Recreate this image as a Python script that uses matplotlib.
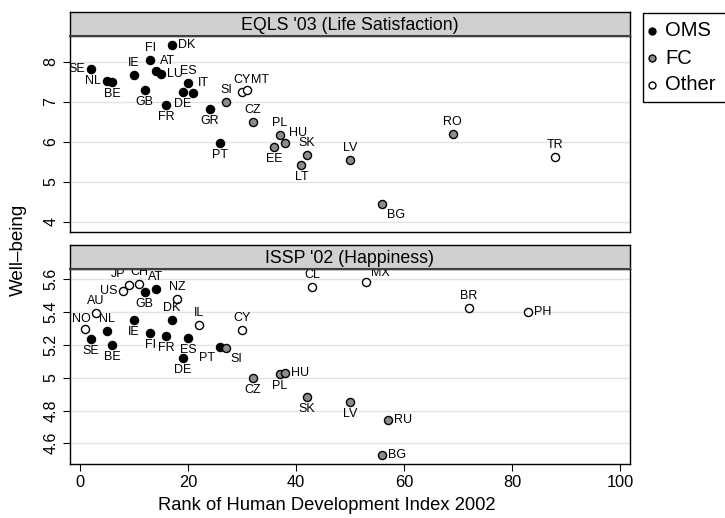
import matplotlib
matplotlib.use('Agg')
from matplotlib import pyplot as plt
from matplotlib.patches import Rectangle
from matplotlib.lines import Line2D
import numpy as np

plt.rcParams['font.family'] = ['Liberation Sans', 'DejaVu Sans']

# EQLS '03 (Life Satisfaction)
eqls_codes = ['SE', 'NL', 'BE', 'IE', 'GB', 'FI', 'AT', 'LU', 'FR', 'DK', 'DE', 'ES', 'IT', 'GR',
              'PT', 'SI', 'CY', 'MT', 'CZ', 'EE', 'PL', 'HU', 'LT', 'SK', 'LV', 'BG', 'RO', 'TR']
eqls_rank = [2, 5, 6, 10, 12, 13, 14, 15, 16, 17, 19, 20, 21, 24,
             26, 27, 30, 31, 32, 36, 37, 38, 41, 42, 50, 56, 69, 88]
eqls_value = [7.82, 7.53, 7.50, 7.67, 7.29, 8.05, 7.78, 7.70, 6.93, 8.41, 7.25, 7.48, 7.23, 6.81,
              5.98, 6.99, 7.24, 7.30, 6.50, 5.87, 6.18, 5.96, 5.43, 5.68, 5.55, 4.45, 6.20, 5.62]
eqls_group = ['OMS', 'OMS', 'OMS', 'OMS', 'OMS', 'OMS', 'OMS', 'OMS', 'OMS', 'OMS', 'OMS', 'OMS', 'OMS', 'OMS',
              'OMS', 'FC', 'Other', 'Other', 'FC', 'FC', 'FC', 'FC', 'FC', 'FC', 'FC', 'FC', 'FC', 'Other']

# ISSP '02 (Happiness)
issp_codes = ['NO', 'SE', 'AU', 'NL', 'BE', 'US', 'JP', 'IE', 'CH', 'GB', 'FI', 'AT', 'FR', 'DK',
              'NZ', 'DE', 'ES', 'IL', 'PT', 'SI', 'CY', 'CZ', 'PL', 'HU', 'SK', 'CL', 'LV', 'MX',
              'BG', 'RU', 'BR', 'PH']
issp_rank = [1, 2, 3, 5, 6, 8, 9, 10, 11, 12, 13, 14, 16, 17,
             18, 19, 20, 22, 26, 27, 30, 32, 37, 38, 42, 43, 50, 53,
             56, 57, 72, 83]
issp_value = [5.296, 5.236, 5.394, 5.285, 5.202, 5.527, 5.563, 5.349, 5.571, 5.522, 5.273, 5.541, 5.257, 5.353,
              5.478, 5.120, 5.240, 5.320, 5.190, 5.181, 5.288, 5.000, 5.020, 5.028, 4.884, 5.555, 4.849, 5.582,
              4.530, 4.745, 5.426, 5.400]
issp_group = ['Other', 'OMS', 'Other', 'OMS', 'OMS', 'Other', 'Other', 'OMS', 'Other', 'OMS', 'OMS', 'OMS', 'OMS', 'OMS',
              'Other', 'OMS', 'OMS', 'Other', 'OMS', 'FC', 'Other', 'FC', 'FC', 'FC', 'FC', 'Other', 'FC', 'Other',
              'FC', 'FC', 'Other', 'Other']

groups = ['OMS', 'FC', 'Other']
fills = {'OMS': 'black', 'FC': '#8c8c8c', 'Other': 'white'}

# label placement (offset in pixels, alignment)
place = {
    'a': (0, 12, 'center'), 'b': (0, -12, 'center'),
    'l': (-6, 0, 'right'), 'r': (6, 0, 'left'),
    'ar': (4, 10, 'left'), 'br': (5, -11, 'left'), 'bl': (-5, -11, 'right'),
    'al': (-3, 11, 'right'), 'mx': (5, 9, 'left'), 'no': (-4, 10, 'center'),
}
eqls_pos = {'SE': 'l', 'NL': 'l', 'BE': 'b', 'IE': 'a', 'GB': 'b', 'FI': 'a', 'AT': 'ar', 'LU': 'r',
            'FR': 'b', 'DK': 'r', 'DE': 'b', 'ES': 'a', 'IT': 'ar', 'GR': 'b', 'PT': 'b', 'SI': 'a',
            'CY': 'a', 'MT': 'ar', 'CZ': 'a', 'EE': 'b', 'PL': 'a', 'HU': 'ar', 'LT': 'b', 'SK': 'a',
            'LV': 'a', 'BG': 'br', 'RO': 'a', 'TR': 'a'}
issp_pos = {'NO': 'no', 'SE': 'b', 'AU': 'a', 'NL': 'a', 'BE': 'b', 'US': 'l', 'JP': 'al', 'IE': 'b',
            'CH': 'a', 'GB': 'b', 'FI': 'b', 'AT': 'a', 'FR': 'b', 'DK': 'a', 'NZ': 'a', 'DE': 'b',
            'ES': 'b', 'IL': 'a', 'PT': 'bl', 'SI': 'br', 'CY': 'a', 'CZ': 'b', 'PL': 'b', 'HU': 'r',
            'SK': 'b', 'CL': 'a', 'LV': 'b', 'MX': 'mx', 'BG': 'r', 'RU': 'r', 'BR': 'a', 'PH': 'r'}

W, H = 725, 518
fig = plt.figure(figsize=(W / 100, H / 100), dpi=100)

def fx(px):
    return px / W

def fy(py):
    return 1 - py / H

panels = [
    ("EQLS '03 (Life Satisfaction)", eqls_codes, eqls_rank, eqls_value, eqls_group, eqls_pos,
     (12.3, 35.7, 231.7), (3.75, 8.65), [4, 5, 6, 7, 8], ['4', '5', '6', '7', '8']),
    ("ISSP '02 (Happiness)", issp_codes, issp_rank, issp_value, issp_group, issp_pos,
     (245.3, 269.0, 464.3), (4.472, 5.663), [4.6, 4.8, 5.0, 5.2, 5.4, 5.6],
     ['4.6', '4.8', '5', '5.2', '5.4', '5.6']),
]

left, right = 69.5, 630.3
for i, (title, codes, rank, value, grp, pos, (ys, yp, yb), ylim, yt, ytl) in enumerate(panels):
    ax = fig.add_axes([fx(left), fy(yb), fx(right - left), (yb - yp) / H])
    st = fig.add_axes([fx(left), fy(yp), fx(right - left), (yp - ys) / H])
    st.set_facecolor('#d0d0d0')
    st.set_xticks([])
    st.set_yticks([])
    for s in st.spines.values():
        s.set_linewidth(1.0)
    st.spines['bottom'].set_color('#404040')
    st.spines['bottom'].set_linewidth(1.5)
    st.text(0.5, 0.45, title, ha='center', va='center', fontsize=12.8, transform=st.transAxes)

    ax.set_xlim(-1.94, 101.9)
    ax.set_ylim(*ylim)
    for y in yt:
        ax.axhline(y, color='#e3e3e3', lw=1.0, zorder=0)
    ax.set_yticks(yt)
    ax.set_yticklabels(ytl, rotation=90, va='center', fontsize=11.5)
    ax.tick_params(axis='y', length=5, width=0.8, pad=3)
    if i == 1:
        ax.set_xticks([0, 20, 40, 60, 80, 100])
        ax.tick_params(axis='x', length=5, width=0.8, labelsize=11.8, pad=3)
    else:
        ax.set_xticks([])
    for s in ax.spines.values():
        s.set_linewidth(1.0)

    rank = np.array(rank)
    value = np.array(value)
    grp = np.array(grp)
    for g in groups:
        m = grp == g
        ax.scatter(rank[m], value[m], s=34, c=fills[g], edgecolors='black', linewidths=1.0, zorder=3)
    for c, xv, yv in zip(codes, rank, value):
        dx, dy, ha = place[pos[c]]
        ax.annotate(c, (xv, yv), xytext=(dx, dy), textcoords='offset pixels',
                    ha=ha, va='center', fontsize=9, zorder=4)

fig.text(fx(327), fy(505), 'Rank of Human Development Index 2002', ha='center', va='center', fontsize=13.2)
fig.text(fx(18), fy(250), 'Well\u2013being', rotation=90, ha='center', va='center', fontsize=13.5)

# legend
fig.patches.append(Rectangle((fx(643.3), fy(101.7)), fx(200), (101.7 - 12.7) / H,
                             transform=fig.transFigure, facecolor='white', edgecolor='black', lw=1.0))
for k, g in enumerate(groups):
    yy = fy(31 + 27 * k)
    fig.lines.append(Line2D([fx(652)], [yy], marker='o', markersize=5, markerfacecolor=fills[g],
                            markeredgecolor='black', markeredgewidth=1.0, linestyle='none',
                            transform=fig.transFigure))
    fig.text(fx(665), yy, g, ha='left', va='center', fontsize=14.5)

fig.savefig('out.png', dpi=100)
